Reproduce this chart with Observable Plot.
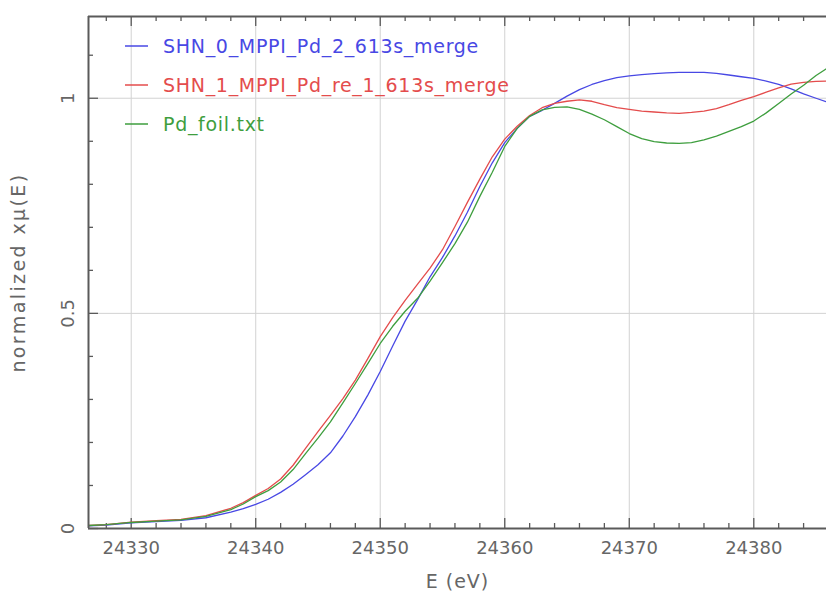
<!DOCTYPE html>
<html>
<head>
<meta charset="utf-8">
<script src="https://cdn.jsdelivr.net/npm/d3@7"></script>
<script src="https://cdn.jsdelivr.net/npm/@observablehq/plot@0.6"></script>
<style>
  html, body { margin: 0; padding: 0; background: #fff; }
  #chart { position: relative; width: 826px; height: 592px; overflow: hidden; }
</style>
</head>
<body>
<div id="chart"></div>
<script>
// ---- data ----
const energy = [24326.6, 24328, 24330, 24332, 24334, 24336, 24338, 24339, 24340, 24341, 24342, 24343, 24344, 24345, 24346, 24347, 24348, 24349, 24350, 24351, 24352, 24353, 24354, 24355, 24356, 24357, 24358, 24359, 24360, 24361, 24362, 24363, 24364, 24365, 24366, 24367, 24368, 24369, 24370, 24371, 24372, 24373, 24374, 24375, 24376, 24377, 24378, 24379, 24380, 24381, 24382, 24383, 24384, 24385, 24385.8];

const shn0 = [0.006, 0.008, 0.013, 0.016, 0.019, 0.025, 0.038, 0.046, 0.056, 0.068, 0.084, 0.103, 0.125, 0.148, 0.176, 0.215, 0.260, 0.310, 0.365, 0.424, 0.482, 0.532, 0.585, 0.630, 0.680, 0.735, 0.795, 0.850, 0.897, 0.930, 0.958, 0.972, 0.988, 1.005, 1.020, 1.032, 1.041, 1.048, 1.052, 1.055, 1.057, 1.059, 1.060, 1.060, 1.060, 1.058, 1.054, 1.050, 1.046, 1.040, 1.032, 1.022, 1.010, 1.000, 0.992];

const shn1 = [0.007, 0.009, 0.015, 0.018, 0.021, 0.030, 0.047, 0.060, 0.077, 0.093, 0.115, 0.147, 0.186, 0.225, 0.263, 0.302, 0.345, 0.395, 0.446, 0.490, 0.530, 0.568, 0.605, 0.648, 0.702, 0.758, 0.812, 0.864, 0.905, 0.935, 0.960, 0.978, 0.988, 0.993, 0.996, 0.993, 0.985, 0.978, 0.974, 0.970, 0.968, 0.966, 0.965, 0.967, 0.970, 0.976, 0.985, 0.995, 1.004, 1.014, 1.024, 1.033, 1.037, 1.039, 1.040];

const foil = [0.007, 0.009, 0.014, 0.017, 0.020, 0.028, 0.044, 0.057, 0.074, 0.088, 0.108, 0.137, 0.174, 0.210, 0.248, 0.292, 0.337, 0.383, 0.430, 0.470, 0.505, 0.535, 0.575, 0.618, 0.662, 0.712, 0.772, 0.828, 0.888, 0.930, 0.958, 0.973, 0.979, 0.980, 0.974, 0.963, 0.950, 0.934, 0.918, 0.906, 0.899, 0.896, 0.895, 0.897, 0.903, 0.912, 0.923, 0.934, 0.947, 0.966, 0.988, 1.010, 1.030, 1.053, 1.068];

const seriesNames = ["SHN_0_MPPI_Pd_2_613s_merge", "SHN_1_MPPI_Pd_re_1_613s_merge", "Pd_foil.txt"];
const seriesColors = ["#4848e4", "#e44c4c", "#3e9e3e"];
const seriesValues = [shn0, shn1, foil];

const xTicks = [24330, 24340, 24350, 24360, 24370, 24380];
const xTickLabels = ["24330", "24340", "24350", "24360", "24370", "24380"];
const xMinor = [24328, 24332, 24334, 24336, 24338, 24342, 24344, 24346, 24348, 24352, 24354, 24356, 24358, 24362, 24364, 24366, 24368, 24372, 24374, 24376, 24378, 24382, 24384];
const yTicks = [0, 0.5, 1];
const yTickLabels = ["0", "0.5", "1"];
const yMinor = [0.1, 0.2, 0.3, 0.4, 0.6, 0.7, 0.8, 0.9, 1.1];
const xLabel = "E (eV)";
const yLabel = "normalized xμ(E)";

// ---- build table ----
const rows = [];
seriesNames.forEach((name, i) => {
  energy.forEach((e, j) => rows.push({ series: name, E: e, mu: seriesValues[i][j] }));
});

const W = 826, H = 592;
const mL = 88, mR = 0, mT = 16, mB = 64;
const pw = W - mL - mR, ph = H - mT - mB;
const axisColor = "#5a5a5a";
const textColor = "#666";
const font = "'DejaVu Sans', sans-serif";

const chart = Plot.plot({
  width: W, height: H,
  marginLeft: mL, marginRight: mR, marginTop: mT, marginBottom: mB,
  style: { fontFamily: font, background: "#fff", overflow: "visible" },
  x: { domain: [24326.57, 24385.84], axis: null },
  y: { domain: [0, 1.19], axis: null },
  color: { domain: seriesNames, range: seriesColors },
  marks: [
    Plot.gridX(xTicks, { stroke: "#d2d2d2", strokeOpacity: 1, strokeWidth: 1 }),
    Plot.gridY([0.5, 1], { stroke: "#d2d2d2", strokeOpacity: 1, strokeWidth: 1 }),
    // ticks (inward)
    Plot.tickX(xTicks, { insetTop: ph - 10, stroke: axisColor, strokeWidth: 1.3 }),
    Plot.tickX(xMinor, { insetTop: ph - 5, stroke: axisColor, strokeWidth: 1.3 }),
    Plot.tickX(xTicks, { insetBottom: ph - 10, stroke: axisColor, strokeWidth: 1.3 }),
    Plot.tickX(xMinor, { insetBottom: ph - 5, stroke: axisColor, strokeWidth: 1.3 }),
    Plot.tickY(yTicks, { insetRight: pw - 10, stroke: axisColor, strokeWidth: 1.3 }),
    Plot.tickY(yMinor, { insetRight: pw - 5, stroke: axisColor, strokeWidth: 1.3 }),
    // curves
    Plot.line(rows, { x: "E", y: "mu", z: "series", stroke: "series", strokeWidth: 1.3 }),
    // frame (left, bottom, top)
    Plot.ruleX([24326.57], { stroke: axisColor, strokeWidth: 2 }),
    Plot.ruleY([0, 1.19], { stroke: axisColor, strokeWidth: 2 }),
    // tick labels
    Plot.text(xTicks, { x: d => d, text: (d, i) => xTickLabels[i], frameAnchor: "bottom", dy: 20, fontSize: 18, fill: textColor, lineAnchor: "middle" }),
    Plot.text(yTicks, { y: d => d, text: (d, i) => yTickLabels[i], frameAnchor: "left", dx: -20, rotate: -90, fontSize: 18, fill: textColor, textAnchor: "middle", lineAnchor: "middle" }),
    // axis titles
    Plot.text([xLabel], { text: d => d, frameAnchor: "bottom", dy: 53, fontSize: 19, fill: textColor, lineAnchor: "middle", className: "xlab" }),
    Plot.text([yLabel], { text: d => d, frameAnchor: "left", dx: -70, rotate: -90, fontSize: 19, fill: textColor, textAnchor: "middle", lineAnchor: "middle", className: "ylab" })
  ]
});

const svg = d3.select(chart);
svg.selectAll(".ylab text").attr("letter-spacing", "2.4px");
svg.selectAll(".xlab text").attr("letter-spacing", "1px");

// legend drawn into the same svg
const leg = svg.append("g").attr("font-family", font).attr("font-size", 19).attr("text-anchor", "start");
seriesNames.forEach((name, i) => {
  const y = 46 + i * 39;
  leg.append("line").attr("x1", 125).attr("x2", 148).attr("y1", y).attr("y2", y)
    .attr("stroke", seriesColors[i]).attr("stroke-width", 1.5);
  leg.append("text").attr("x", 163).attr("y", y).attr("dy", "0.35em")
    .attr("fill", seriesColors[i]).attr("letter-spacing", "0.7px").text(name);
});

document.getElementById("chart").appendChild(chart);
</script>
</body>
</html>
